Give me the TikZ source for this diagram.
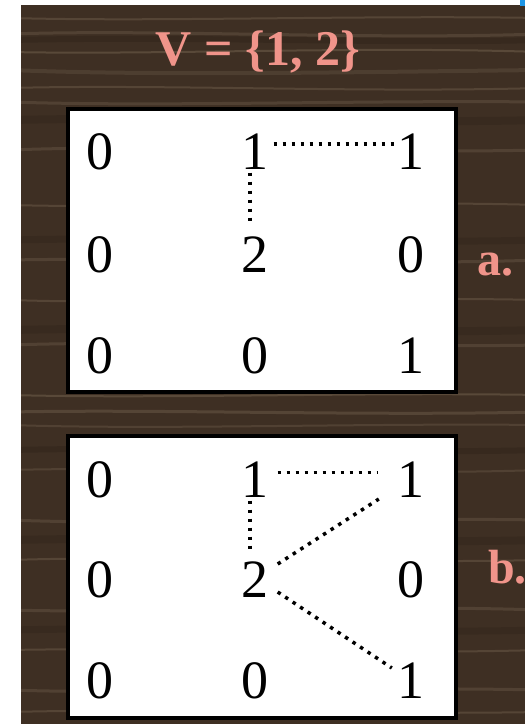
\documentclass[tikz,border=0pt]{standalone}
\usepackage{fontspec}
\setmainfont{Liberation Serif}
\usetikzlibrary{calc}
\definecolor{woodbase}{RGB}{62,47,35}
\definecolor{woodlight}{RGB}{140,122,100}
\definecolor{wooddark}{RGB}{40,29,20}
\definecolor{salmonc}{RGB}{240,148,138}
\definecolor{barblue}{RGB}{30,150,230}
\begin{document}
\begin{tikzpicture}[x=1pt,y=-1pt,
  digit/.style={inner sep=0pt, font=\fontsize{54}{60}\selectfont, text=black},
  lbl/.style={inner sep=0pt, font=\fontsize{48}{54}\selectfont\bfseries, text=salmonc, anchor=base west},
  ttl/.style={inner sep=0pt, font=\fontsize{50}{56}\selectfont\bfseries, text=salmonc, anchor=base},
  panel/.style={draw=black, line width=4pt, fill=white},
  dotline/.style={line width=3.5pt, dash pattern=on 3.5pt off 5.5pt, line cap=butt},
  streak/.style={draw=woodlight, line cap=round}]
\useasboundingbox (0,0) rectangle (525,724);
\fill[white] (0,0) rectangle (525,724);
\fill[woodbase] (21,5) rectangle (525,724);
\fill[barblue] (520,0) rectangle (525,6);
\begin{scope}
\clip (21,5) rectangle (525,724);
\foreach \y/\w/\o in {40/6/0.3, 120/8/0.25, 240/7/0.25, 330/8/0.25, 450/6/0.3, 540/8/0.25, 630/7/0.25}
  \draw[draw=wooddark, line width=\w pt, opacity=\o] (10,\y) .. controls (200,{\y-4}) and (380,{\y+4}) .. (540,\y);
\foreach \y/\a/\b/\w/\o in {18/4/-3/2/0.3, 34/-5/6/3/0.25, 52/3/-6/2/0.35, 70/6/2/4/0.2, 88/-4/5/2/0.3,
  102/5/-2/3/0.25, 150/-6/4/3/0.25, 205/4/-5/2/0.3, 260/-3/6/3/0.25, 300/5/-4/2/0.3, 345/-5/3/3/0.25,
  395/4/-3/2/0.35, 412/-3/4/3/0.3, 425/5/-2/2/0.25, 470/-4/6/2/0.25, 520/6/-3/3/0.25, 560/-5/4/2/0.3,
  610/4/-6/3/0.25, 650/-3/5/2/0.3, 690/5/-4/3/0.25, 712/-4/3/2/0.3}
  \draw[streak, line width=\w pt, opacity=\o] (10,\y) .. controls (160,{\y+\a}) and (360,{\y+\b}) .. (540,\y);
\end{scope}

\node[ttl] (title) at (258,65) {V = \{1, 2\}};

\draw[panel] (68,109) rectangle (456,392);
\draw[panel] (68,436) rectangle (456,718);

% panel a
\node[digit] (a11) at (99.5,151.5) {0};
\node[digit] (a12) at (255,151.5) {1};
\node[digit] (a13) at (410.5,151.5) {1};
\node[digit] (a21) at (99.5,255) {0};
\node[digit] (a22) at (255,255) {2};
\node[digit] (a23) at (410.5,255) {0};
\node[digit] (a31) at (99.5,355.5) {0};
\node[digit] (a32) at (255,355.5) {0};
\node[digit] (a33) at (410.5,355.5) {1};

% panel b
\node[digit] (b11) at (99.5,479.5) {0};
\node[digit] (b12) at (255,479.5) {1};
\node[digit] (b13) at (410.5,479.5) {1};
\node[digit] (b21) at (99.5,579.5) {0};
\node[digit] (b22) at (255,579.5) {2};
\node[digit] (b23) at (410.5,579.5) {0};
\node[digit] (b31) at (99.5,680.5) {0};
\node[digit] (b32) at (255,680.5) {0};
\node[digit] (b33) at (410.5,680.5) {1};

\node[lbl] (la) at (477,275) {a.};
\node[lbl] (lb) at (488,583) {b.};

% connectors a
\draw[dotline] ($(a12.east)+(5,-7.5)$) -- ($(a13.west)+(-2,-7.5)$);
\draw[dotline] ($(a12.south)+(-5,3)$) -- ($(a22.north)+(-5,-12)$);

% connectors b
\draw[dotline] ($(b12.east)+(9,-7)$) -- ($(b13.west)+(-20,-7)$);
\draw[dotline] ($(b12.south)+(-5,3)$) -- ($(b22.north)+(-5,-9)$);
\draw[dotline] ($(b22.east)+(9,-15.5)$) -- ($(b13.south west)+(-18,1.5)$);
\draw[dotline] ($(b22.east)+(9,12.5)$) -- ($(b33.north west)+(-5,5.5)$);
\end{tikzpicture}
\end{document}
